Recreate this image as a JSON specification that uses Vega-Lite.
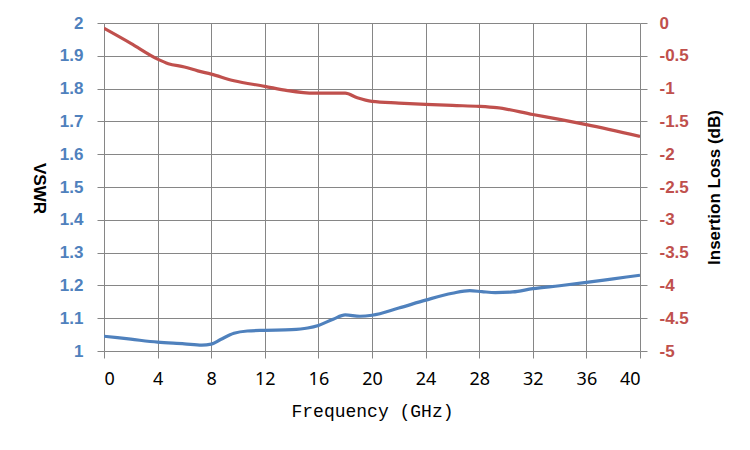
{
  "$schema": "https://vega.github.io/schema/vega-lite/v6.json",
  "width": 536,
  "height": 328,
  "autosize": {"type": "none"},
  "padding": {"left": 104, "top": 23, "right": 110, "bottom": 99},
  "background": "white",
  "datasets": {
    "vswr": [
      {"freq": 0, "vswr": 1.045},
      {"freq": 2, "vswr": 1.036},
      {"freq": 4, "vswr": 1.027},
      {"freq": 6, "vswr": 1.022},
      {"freq": 7.3, "vswr": 1.018},
      {"freq": 8, "vswr": 1.021},
      {"freq": 8.7, "vswr": 1.035},
      {"freq": 9.7, "vswr": 1.054},
      {"freq": 10.7, "vswr": 1.061},
      {"freq": 12, "vswr": 1.063},
      {"freq": 14, "vswr": 1.065},
      {"freq": 15.2, "vswr": 1.07},
      {"freq": 16, "vswr": 1.078},
      {"freq": 17.1, "vswr": 1.097},
      {"freq": 18, "vswr": 1.11},
      {"freq": 19.1, "vswr": 1.106},
      {"freq": 20, "vswr": 1.109},
      {"freq": 22, "vswr": 1.131},
      {"freq": 24, "vswr": 1.155},
      {"freq": 26, "vswr": 1.176},
      {"freq": 27.3, "vswr": 1.184},
      {"freq": 28.2, "vswr": 1.181},
      {"freq": 29.2, "vswr": 1.178},
      {"freq": 30.5, "vswr": 1.18},
      {"freq": 32, "vswr": 1.19},
      {"freq": 34, "vswr": 1.199},
      {"freq": 36, "vswr": 1.209},
      {"freq": 38, "vswr": 1.22},
      {"freq": 40, "vswr": 1.231}
    ],
    "loss": [
      {"freq": 0, "loss": -0.08},
      {"freq": 2, "loss": -0.31},
      {"freq": 4, "loss": -0.55},
      {"freq": 4.8, "loss": -0.62},
      {"freq": 6, "loss": -0.67},
      {"freq": 7, "loss": -0.73},
      {"freq": 8, "loss": -0.78},
      {"freq": 9.7, "loss": -0.88},
      {"freq": 12, "loss": -0.965},
      {"freq": 13.7, "loss": -1.03},
      {"freq": 15.7, "loss": -1.07},
      {"freq": 18, "loss": -1.07},
      {"freq": 18.9, "loss": -1.14},
      {"freq": 20, "loss": -1.195},
      {"freq": 22, "loss": -1.22},
      {"freq": 24, "loss": -1.24},
      {"freq": 26, "loss": -1.257},
      {"freq": 28, "loss": -1.27},
      {"freq": 29.3, "loss": -1.29},
      {"freq": 32, "loss": -1.395},
      {"freq": 34, "loss": -1.47},
      {"freq": 36, "loss": -1.55},
      {"freq": 40, "loss": -1.73}
    ]
  },
  "layer": [
    {
      "data": {"name": "vswr"},
      "mark": {"type": "line", "color": "#4F81BD", "strokeWidth": 3.2, "interpolate": "monotone", "clip": true},
      "encoding": {
        "x": {
          "field": "freq",
          "type": "quantitative",
          "scale": {"domain": [0, 40], "nice": false, "zero": false},
          "axis": {
            "title": "Frequency (GHz)",
            "values": [0, 4, 8, 12, 16, 20, 24, 28, 32, 36, 40],
            "grid": true,
            "domain": false,
            "tickSize": 7,
            "labelPadding": 12,
            "labelFont": "Noto Sans",
            "labelFontSize": 18,
            "labelColor": "#000000",
            "titleFont": "Liberation Mono",
            "titleFontSize": 18,
            "titleFontWeight": "normal",
            "titleColor": "#000000",
            "titleX": 268,
            "titleY": 60,
            "titleBaseline": "middle"
          }
        },
        "y": {
          "field": "vswr",
          "type": "quantitative",
          "scale": {"domain": [1, 2], "nice": false, "zero": false},
          "axis": {
            "title": "VSWR",
            "orient": "left",
            "values": [1, 1.1, 1.2, 1.3, 1.4, 1.5, 1.6, 1.7, 1.8, 1.9, 2],
            "labelExpr": "'' + datum.value",
            "grid": true,
            "domain": false,
            "tickSize": 7,
            "labelPadding": 14,
            "labelFont": "Liberation Sans",
            "labelFontSize": 17,
            "labelFontWeight": "bold",
            "labelColor": "#4F81BD",
            "titleFont": "Liberation Sans",
            "titleFontSize": 17,
            "titleFontWeight": "bold",
            "titleColor": "#000000",
            "titleAngle": 90,
            "titleX": -66,
            "titleY": 165,
            "titleBaseline": "middle"
          }
        }
      }
    },
    {
      "data": {"name": "loss"},
      "mark": {"type": "line", "color": "#C0504D", "strokeWidth": 3.2, "interpolate": "monotone", "clip": true},
      "encoding": {
        "x": {
          "field": "freq",
          "type": "quantitative",
          "scale": {"domain": [0, 40], "nice": false, "zero": false}
        },
        "y": {
          "field": "loss",
          "type": "quantitative",
          "scale": {"domain": [-5, 0], "nice": false, "zero": false},
          "axis": {
            "title": "Insertion Loss (dB)",
            "orient": "right",
            "values": [-5, -4.5, -4, -3.5, -3, -2.5, -2, -1.5, -1, -0.5, 0],
            "labelExpr": "'' + datum.value",
            "grid": false,
            "domain": false,
            "tickSize": 7,
            "labelPadding": 12,
            "labelFont": "Liberation Sans",
            "labelFontSize": 17,
            "labelFontWeight": "bold",
            "labelColor": "#C0504D",
            "titleFont": "Liberation Sans",
            "titleFontSize": 17,
            "titleFontWeight": "bold",
            "titleColor": "#000000",
            "titleAngle": -90,
            "titleX": 74,
            "titleY": 164,
            "titleBaseline": "middle"
          }
        }
      }
    }
  ],
  "resolve": {"scale": {"y": "independent"}},
  "config": {
    "view": {"stroke": null},
    "axis": {
      "gridColor": "#868686",
      "gridOpacity": 1,
      "gridWidth": 1,
      "tickColor": "#868686",
      "tickWidth": 1
    }
  }
}
